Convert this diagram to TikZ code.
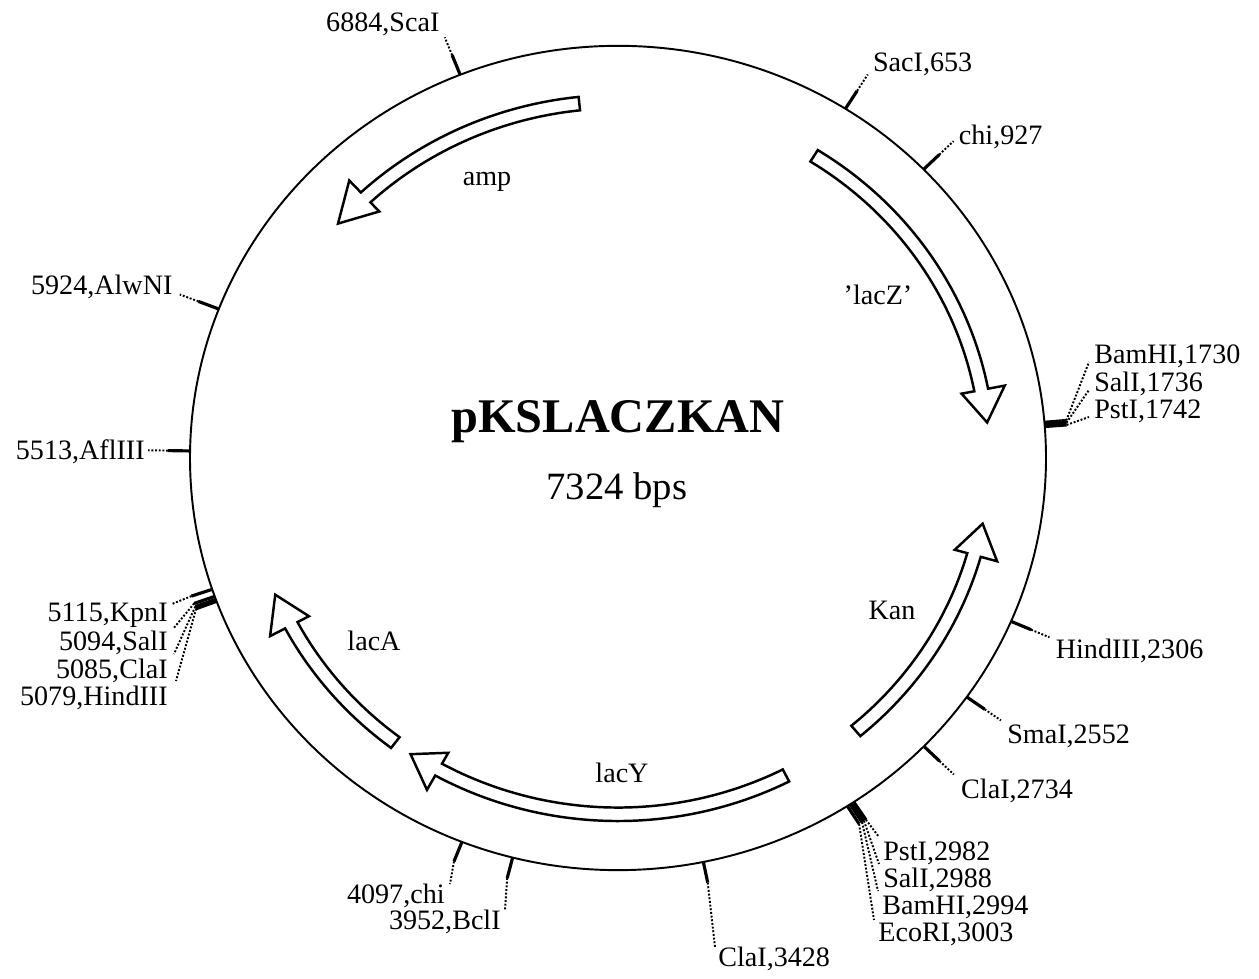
\documentclass[tikz,border=0pt]{standalone}
\usepackage{fontspec}
\setmainfont{Liberation Serif}
\usetikzlibrary{calc,positioning}

\tikzset{
  gene/.style={line width=1.4pt,fill=white,line join=miter},
  sitetick/.style={line width=1.8pt},
  leader/.style={line width=1.1pt,dash pattern=on 1.1pt off 1pt},
  sitelabel/.style={inner sep=0pt,font=\fontsize{16}{19}\selectfont},
  genelabel/.style={inner sep=0pt,font=\fontsize{16}{19}\selectfont},
}

% gene arrow: tail angle, head base angle, tip angle
\newcommand{\genearrow}[3]{%
  \draw[gene] (#1:377) arc[start angle=#1,end angle=#2,radius=377]
    -- (#2:394) -- (#3:371) -- (#2:350) -- (#2:363)
    arc[start angle=#2,end angle=#1,radius=363] -- cycle;}

\begin{document}
\begin{tikzpicture}[x=0.02cm,y=0.02cm]
  \useasboundingbox (0,0) rectangle (1259,979);

  \begin{scope}[shift={(618,521)},yscale=0.963]
    \draw[line width=1.1pt] (0,0) circle[radius=428];
    % genes
    \genearrow{96}{133}{139}
    \genearrow{58}{11}{5.7}
    \genearrow{-50}{-15.8}{-10.6}
    \genearrow{-63}{-119}{-124}
    \genearrow{-127}{-152}{-157.5}
    % restriction sites, 0 bp at top, clockwise
    \foreach \bp/\nm in {6884/scaI,653/sacI,927/chiA,1730/bamA,1736/salA,1742/pstA,
        2306/hindA,2552/smaI,2734/claA,2982/pstB,2988/salB,2994/bamB,3003/ecoRI,
        3428/claB,3952/bclI,4097/chiB,5079/hindB,5085/claC,5094/salC,5115/kpnI,
        5513/aflIII,5924/alwNI}{
      \pgfmathsetmacro\ang{90-\bp/7324*360}
      \draw[sitetick] (\ang:428) -- (\ang:450) coordinate (\nm);
      \coordinate (\nm-e) at (\ang:470);
    }
  \end{scope}

  % name and size
  \node (title) at (618,546) [anchor=base,font=\fontsize{27.5}{33}\selectfont\bfseries] {pKSLACZKAN};
  \node (size) at (617,479) [anchor=base,font=\fontsize{22}{26}\selectfont] {7324 bps};

  % gene names
  \node (amp) at (487,797) [genelabel] {amp};
  \node (lacZ) at (878,684) [genelabel] {'lacZ'};
  \node (kan) at (892,369) [genelabel] {Kan};
  \node (lacA) at (374,338) [genelabel] {lacA};
  \node (lacY) at (622,206) [genelabel] {lacY};

  % single sites
  \node (lScaI) at ($(scaI-e)+(-5,6)$) [sitelabel,anchor=base east] {6884,ScaI};
  \draw[leader] (scaI) -- (scaI-e);
  \node (lSacI) at ($(sacI-e)+(5,3)$) [sitelabel,anchor=base west] {SacI,653};
  \draw[leader] (sacI) -- (sacI-e);
  \node (lChiA) at ($(chiA-e)+(5,-3)$) [sitelabel,anchor=base west] {chi,927};
  \draw[leader] (chiA) -- (chiA-e);
  \node (lHindA) at ($(hindA-e)+(6,-21)$) [sitelabel,anchor=base west] {HindIII,2306};
  \draw[leader] (hindA) -- (hindA-e);
  \node (lSmaI) at ($(smaI-e)+(6,-23)$) [sitelabel,anchor=base west] {SmaI,2552};
  \draw[leader] (smaI) -- (smaI-e);
  \node (lClaA) at ($(claA-e)+(7,-24)$) [sitelabel,anchor=base west] {ClaI,2734};
  \draw[leader] (claA) -- (claA-e);
  \node (lAlwNI) at ($(alwNI-e)+(-7,0)$) [sitelabel,anchor=base east] {5924,AlwNI};
  \draw[leader] (alwNI) -- (alwNI-e);
  \node (lAflIII) at ($(aflIII-e)+(-3,-9)$) [sitelabel,anchor=base east] {5513,AflIII};
  \draw[leader] (aflIII) -- (aflIII-e);

  % long leaders at the bottom
  \node (lClaB) at (718,32) [sitelabel,anchor=north west] {ClaI,3428};
  \draw[leader] (claB) -- ($(lClaB.north west)+(-3,0)$);
  \node (lBclI) at (501,69) [sitelabel,anchor=north east] {3952,BclI};
  \draw[leader] (bclI) -- ($(lBclI.north east)+(4,0)$);
  \node (lChiB) at (445,95) [sitelabel,anchor=north east] {4097,chi};
  \draw[leader] (chiB) -- ($(lChiB.north east)+(5,0)$);

  % polylinker, right
  \node (lBamA) at (1094,615) [sitelabel,anchor=base west] {BamHI,1730};
  \node (lSalA) at (1094,587) [sitelabel,anchor=base west] {SalI,1736};
  \node (lPstA) at (1094,560) [sitelabel,anchor=base west] {PstI,1742};
  \draw[leader] (bamA) -- ($(lBamA.base west)+(-5,2)$);
  \draw[leader] (salA) -- ($(lSalA.base west)+(-5,2)$);
  \draw[leader] (pstA) -- ($(lPstA.base west)+(-5,2)$);

  % polylinker, bottom right
  \node (lPstB) at (883,118) [sitelabel,anchor=base west] {PstI,2982};
  \node (lSalB) at (883,91) [sitelabel,anchor=base west] {SalI,2988};
  \node (lBamB) at (882,64) [sitelabel,anchor=base west] {BamHI,2994};
  \node (lEcoRI) at (878,37) [sitelabel,anchor=base west] {EcoRI,3003};
  \draw[leader] (pstB) -- ($(lPstB.base west)+(-4,24)$);
  \draw[leader] (salB) -- ($(lSalB.base west)+(-4,24)$);
  \draw[leader] (bamB) -- ($(lBamB.base west)+(-4,24)$);
  \draw[leader] (ecoRI) -- ($(lEcoRI.base west)+(-4,22)$);

  % polylinker, left
  \node (lKpnI) at (168,357) [sitelabel,anchor=base east] {5115,KpnI};
  \node (lSalC) at (168,328) [sitelabel,anchor=base east] {5094,SalI};
  \node (lClaC) at (168,300) [sitelabel,anchor=base east] {5085,ClaI};
  \node (lHindB) at (168,273) [sitelabel,anchor=base east] {5079,HindIII};
  \draw[leader] (kpnI) -- ($(lKpnI.base east)+(4,18)$);
  \draw[leader] (salC) -- ($(lSalC.base east)+(5,22)$);
  \draw[leader] (claC) -- ($(lClaC.base east)+(6,25)$);
  \draw[leader] (hindB) -- ($(lHindB.base east)+(8,25)$);
\end{tikzpicture}
\end{document}
